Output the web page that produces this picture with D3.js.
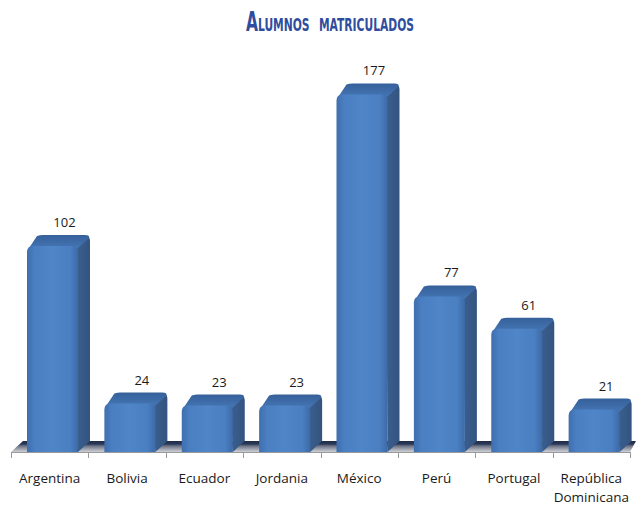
<!DOCTYPE html>
<html>
<head>
<meta charset="utf-8">
<script src="https://cdn.jsdelivr.net/npm/d3@7"></script>
<style>
  html, body { margin: 0; padding: 0; background: #ffffff; }
  svg { display: block; }
</style>
</head>
<body>
<div id="chart"></div>
<script>
const categories = ["Argentina", "Bolivia", "Ecuador", "Jordania", "México", "Perú", "Portugal", "República Dominicana"];
const values = [102, 24, 23, 23, 177, 77, 61, 21];
const titleWords = ["Alumnos", "matriculados"];

const W = 636, H = 505;
const baseY = 452;
const dx = 12, dy = -11;

const svg = d3.select("#chart").append("svg").attr("width", W).attr("height", H);
const defs = svg.append("defs");

const gFront = defs.append("linearGradient").attr("id", "gFront").attr("x1", "0").attr("x2", "1").attr("y1", "0").attr("y2", "0");
gFront.append("stop").attr("offset", "0").attr("stop-color", "#3f6fae");
gFront.append("stop").attr("offset", "0.15").attr("stop-color", "#4a7fc2");
gFront.append("stop").attr("offset", "0.5").attr("stop-color", "#4f86c8");
gFront.append("stop").attr("offset", "0.85").attr("stop-color", "#4a7fc2");
gFront.append("stop").attr("offset", "1").attr("stop-color", "#3d6aa6");

const gSide = defs.append("linearGradient").attr("id", "gSide").attr("x1", "0").attr("x2", "1").attr("y1", "0").attr("y2", "0");
gSide.append("stop").attr("offset", "0").attr("stop-color", "#3a5f90");
gSide.append("stop").attr("offset", "1").attr("stop-color", "#34547f");

const gTop = defs.append("linearGradient").attr("id", "gTop").attr("x1", "0").attr("x2", "0").attr("y1", "0").attr("y2", "1");
gTop.append("stop").attr("offset", "0").attr("stop-color", "#36609a");
gTop.append("stop").attr("offset", "1").attr("stop-color", "#4577b5");

const gFloor = defs.append("linearGradient").attr("id", "gFloor").attr("x1", "0").attr("x2", "0").attr("y1", "0").attr("y2", "1");
gFloor.append("stop").attr("offset", "0").attr("stop-color", "#1e2c48");
gFloor.append("stop").attr("offset", "0.28").attr("stop-color", "#2a3858");
gFloor.append("stop").attr("offset", "0.45").attr("stop-color", "#6b7284");
gFloor.append("stop").attr("offset", "1").attr("stop-color", "#cfd1d6");

const x = d3.scaleBand().domain(categories).range([11, 630]).paddingInner(0).paddingOuter(0);
const y = d3.scaleLinear().domain([0, 200]).range([baseY, 48]);

// Title
const title = svg.append("text")
  .attr("x", 330).attr("y", 31)
  .attr("text-anchor", "middle")
  .attr("font-family", "'DejaVu Sans Condensed', 'DejaVu Sans', sans-serif")
  .attr("font-weight", "bold")
  .attr("font-size", 26)
  .attr("font-variant", "small-caps")
  .attr("fill", "#2e4d9e")
  .attr("textLength", 168)
  .attr("lengthAdjust", "spacingAndGlyphs")
  .attr("word-spacing", 6)
  .text(titleWords.join(" "));

// Floor
svg.append("path")
  .attr("d", `M11,${baseY} L${11 + dx},${baseY + dy} L636,${baseY + dy} L630,${baseY} Z`)
  .attr("fill", "url(#gFloor)");

// Bars
const bars = svg.append("g").selectAll("g").data(categories).join("g");
const bw = 51;
bars.each(function(c, i) {
  const g = d3.select(this);
  const x0 = x(c) + 16, x1 = x0 + bw;
  const yt = y(values[i]);
  const r = 6;
  // side face
  g.append("path")
    .attr("d", `M${x1 - 2},${yt + 2} L${x1 + dx - 3},${yt + dy + 1} Q${x1 + dx},${yt + dy + 2} ${x1 + dx},${yt + dy + 6} L${x1 + dx},${baseY + dy} L${x1},${baseY} Z`)
    .attr("fill", "url(#gSide)");
  // top face
  g.append("path")
    .attr("d", `M${x0 + 2},${yt + 2} L${x0 + dx - 2},${yt + dy + 1} Q${x0 + dx + 1},${yt + dy} ${x0 + dx + 4},${yt + dy} L${x1 + dx - 5},${yt + dy} Q${x1 + dx},${yt + dy} ${x1 + dx - 1},${yt + dy + 3} L${x1 - 1},${yt + 3} Z`)
    .attr("fill", "url(#gTop)");
  // front face
  g.append("path")
    .attr("d", `M${x0},${baseY} L${x0},${yt + r} Q${x0},${yt} ${x0 + r},${yt} L${x1 - r},${yt} Q${x1},${yt} ${x1},${yt + r} L${x1},${baseY} Z`)
    .attr("fill", "url(#gFront)");
  // label
  g.append("text")
    .attr("x", x0 + bw / 2 + 12)
    .attr("y", yt + dy - 8)
    .attr("text-anchor", "middle")
    .attr("font-family", "'Open Sans', 'Noto Sans', sans-serif")
    .attr("font-size", 13)
    .attr("fill", "#1a1a1a")
    .text(values[i]);
});

// Axis
const axisG = svg.append("g");
axisG.append("line").attr("x1", 11).attr("x2", 630).attr("y1", baseY + 0.5).attr("y2", baseY + 0.5).attr("stroke", "#9a9a9a");
const tickPos = categories.map(c => x(c)).concat([x.range()[1]]);
axisG.selectAll("line.tk").data(tickPos).join("line").attr("class", "tk")
  .attr("x1", d => Math.round(d) + 0.5).attr("x2", d => Math.round(d) + 0.5)
  .attr("y1", baseY).attr("y2", baseY + 6)
  .attr("stroke", "#9a9a9a");

// Category labels
const catG = svg.append("g");
categories.forEach(c => {
  const cx = x(c) + x.bandwidth() / 2;
  const words = c === "República Dominicana" ? ["República", "Dominicana"] : [c];
  const t = catG.append("text")
    .attr("text-anchor", "middle")
    .attr("font-family", "'Open Sans', 'Noto Sans', sans-serif")
    .attr("font-size", 13.5)
    .attr("fill", "#1a1a1a");
  words.forEach((w, k) => {
    t.append("tspan").attr("x", cx).attr("y", 483 + k * 19).text(w);
  });
});
</script>
</body>
</html>
